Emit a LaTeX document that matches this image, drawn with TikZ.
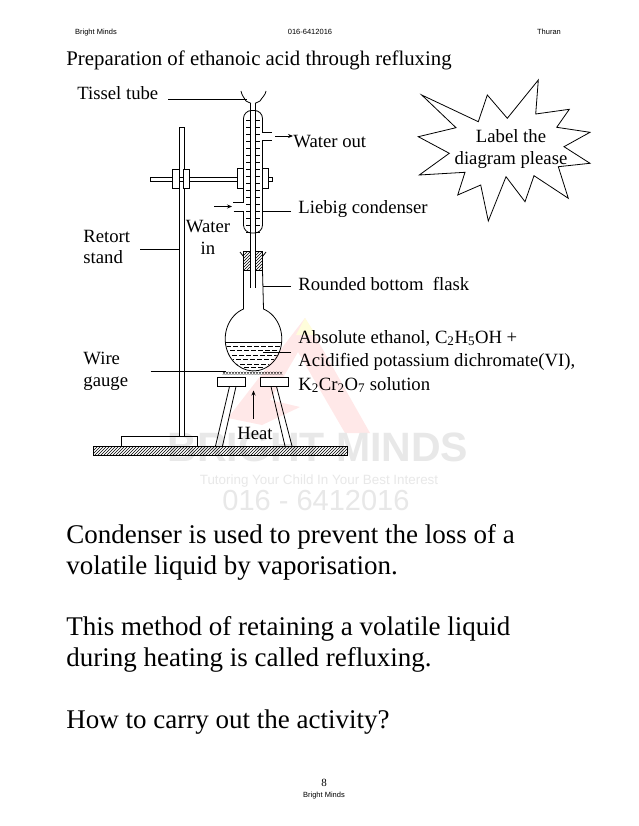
\documentclass[tikz,border=0pt]{standalone}
\usepackage{fontspec}
\setmainfont{Liberation Serif}
\newfontfamily\headfont{Liberation Sans}
\usetikzlibrary{arrows.meta,patterns}

\begin{document}
\begin{tikzpicture}[
    x=1pt, y=1pt, line width=0.8pt,
    lab/.style={anchor=base west, inner sep=0pt, font=\fontsize{18.7}{19}\selectfont},
    labc/.style={lab, anchor=base},
    body/.style={lab, font=\fontsize{27}{27}\selectfont},
    head/.style={anchor=base, inner sep=0pt, font=\fontsize{7.5}{8}\headfont},
    water/.style={line width=0.6pt},
    hatch/.style={pattern=north east lines},
    tip/.style={-{Stealth[length=5pt,width=4pt]}},
    wmark/.style={anchor=base, inner sep=0pt, text=black!9},
]
\useasboundingbox (0,0) rectangle (638,-826);
\fill [white] (0,0) rectangle (638,-826);

    % watermark
    \fill [red!9] (305,-318) -- (370,-433) -- (345,-433) -- (298,-352) -- (270,-400)
        -- (300,-407) -- (262,-425) -- (228,-418) -- cycle;
    \fill [yellow!14] (305,-318) -- (296,-335) -- (316,-335) -- cycle;
    \node [wmark, font=\fontsize{41}{41}\headfont\bfseries] (wmname) at (318,-461) {BRIGHT MINDS};
    \node [wmark, font=\fontsize{13.4}{14}\headfont] (wmtag) at (319,-484) {Tutoring Your Child In Your Best Interest};
    \node [wmark, font=\fontsize{29}{29}\headfont] (wmtel) at (316,-510) {016 - 6412016};

    % page text
    \node [head] (hleft) at (96,-35) {Bright Minds};
    \node [head] (hmid) at (310,-35) {016-6412016};
    \node [head] (hright) at (549,-35) {Thuran};
    \node [lab, font=\fontsize{20.8}{21}\selectfont] (title) at (66,-66)
        {Preparation of ethanoic acid through refluxing};
    \node [body] (b1) at (66,-543) {Condenser is used to prevent the loss of a};
    \node [body] (b2) at (66,-574) {volatile liquid by vaporisation.};
    \node [body] (b3) at (66,-635) {This method of retaining a volatile liquid};
    \node [body] (b4) at (66,-666) {during heating is called refluxing.};
    \node [body] (b5) at (66,-728) {How to carry out the activity?};
    \node [labc, font=\fontsize{11}{11}\selectfont] (pnum) at (324,-786) {8};
    \node [head] (foot) at (324,-797) {Bright Minds};

    % labels
    \node [lab] (tissel) at (77,-100) {Tissel tube};
    \node [lab] (wout) at (293,-148) {Water out};
    \node [lab] (liebig) at (298,-214) {Liebig condenser};
    \node [labc] (win1) at (208,-233) {Water};
    \node [labc] (win2) at (208,-254) {in};
    \node [lab] (retort1) at (83,-242) {Retort};
    \node [lab] (retort2) at (83,-263) {stand};
    \node [lab] (rounded) at (298,-290) {Rounded bottom\ \ flask};
    \node [lab] (abs1) at (298,-343) {Absolute ethanol, C\textsubscript{2}H\textsubscript{5}OH +};
    \node [lab] (abs2) at (298,-366) {Acidified potassium dichromate(VI),};
    \node [lab] (abs3) at (298,-390) {K\textsubscript{2}Cr\textsubscript{2}O\textsubscript{7} solution};
    \node [lab] (wire1) at (83,-364) {Wire};
    \node [lab] (wire2) at (83,-386) {gauge};
    \node [labc] (heat) at (255,-439) {Heat};

    % ground and stand
    \draw [hatch] (93.5,-446) rectangle (347.5,-455.5);
    \draw (121.5,-446) rectangle (197.5,-436.5);
    \draw [fill=white] (179.5,-436.5) rectangle (184.5,-127.5);
    \draw [fill=white] (150,-177) rectangle (237.5,-181.5);
    \draw [fill=white] (172.5,-169.5) rectangle (179.5,-188.5);
    \draw [fill=white] (183.5,-169.5) rectangle (189.5,-188.5);

    % tripod
    \draw (229.5,-386.5) -- (215.5,-446);
    \draw (236,-386.5) -- (222.5,-446);
    \draw (271,-386.5) -- (285,-446);
    \draw (276.5,-386.5) -- (292,-446);
    \draw [fill=white] (217.5,-377.5) rectangle (245.5,-386.5);
    \draw [fill=white] (260.5,-377.5) rectangle (288.5,-386.5);
    \foreach \gx in {224,227,...,281} {
        \draw [line width=0.3pt] (\gx-1.2,-371.8) -- (\gx+1.2,-374.6);
        \draw [line width=0.3pt] (\gx-1.2,-374.6) -- (\gx+1.2,-371.8);
    }

    % flask
    \draw (243.5,-270.5) -- (243.5,-309) arc [start angle=110.7, end angle=429.3, x radius=28.3, y radius=32] -- (262.5,-270.5);
    \draw (226,-342.5) -- (281,-342.5);
    \begin{scope}
        \clip (253.3,-339) ellipse [x radius=27.5, y radius=31];
        \foreach \ly/\lo in {346/0,350.5/3,355/1,359.5/4,364/0,367.5/3} {
            \draw [water, dash pattern=on 4.5pt off 2.5pt, dash phase=\lo pt] (226,-\ly) -- (281,-\ly);
        }
    \end{scope}

    % stopper
    \draw [hatch] (243.5,-251.5) rectangle (250.8,-270.5);
    \draw [hatch] (255.3,-251.5) rectangle (262.5,-270.5);
    \draw (240,-252) -- (243.5,-256.5);
    \draw (266,-252) -- (262.5,-256.5);

    % condenser
    \draw [rounded corners=8pt, fill=white] (243.5,-110.5) rectangle (262.5,-233);
    \fill [white] (233,-203) rectangle (244.2,-211);
    \fill [white] (261.8,-133) rectangle (272.5,-140);
    \draw (233,-202.5) -- (243.5,-202.5);
    \draw (233.5,-211.5) -- (243.5,-211.5);
    \draw (262.5,-132.5) -- (272,-132.5);
    \draw (262.5,-140.5) -- (272,-140.5);
    \foreach \cy in {120,134,...,232} {
        \draw [water] (246,-\cy) -- (250.8,-\cy);
        \draw [water] (255.3,-\cy) -- (260,-\cy);
    }
    \foreach \cy in {127,141,...,225} {
        \draw [water] (246,-\cy) -- (250,-\cy);
        \draw [water] (256,-\cy) -- (260,-\cy);
    }
    \draw (250.8,-104) -- (250.8,-288);
    \draw (255.3,-104) -- (255.3,-288);
    \draw (241,-91) to [out=-80,in=120] (246,-101) to [out=-60,in=90] (250.8,-104);
    \draw (266,-91) to [out=-100,in=60] (260,-101) to [out=-120,in=90] (255.3,-104);
    \draw [fill=white] (237.5,-168.5) rectangle (243.5,-188.5);
    \draw [fill=white] (262.5,-168.5) rectangle (268.5,-188.5);
    \draw [fill=white] (268.5,-177) rectangle (272.5,-181.5);

    % leader lines
    \coordinate (tisselend) at (247,-99);
    \coordinate (woutend) at (293,-136);
    \coordinate (woutstart) at (275,-136);
    \coordinate (winstart) at (214,-206.5);
    \coordinate (winend) at (232,-206.5);
    \coordinate (liebigend) at (262.5,-211.5);
    \coordinate (retortend) at (179.5,-249);
    \coordinate (roundedend) at (262.5,-286);
    \coordinate (absend) at (263,-352.5);
    \coordinate (wireend) at (225.5,-371.5);
    \coordinate (heatend) at (253.5,-390.5);
    \draw (168,-99) -- (tisselend);
    \draw [tip] (woutstart) -- (woutend);
    \draw [tip] (winstart) -- (winend);
    \draw (291,-211.5) -- (liebigend);
    \draw (140,-249) -- (retortend);
    \draw (291,-286) -- (roundedend);
    \draw (291,-352.5) -- (absend);
    \draw (150.5,-371.5) -- (wireend);
    \draw [tip] (253.5,-418.5) -- (heatend);

    % star callout
    \draw (421.7,-95) -- (478.3,-121.7) -- (487.3,-95) -- (507.3,-118.3)
        -- (538.3,-80) -- (535.7,-114) -- (569.3,-109.3) -- (556.7,-127.3)
        -- (590,-132.3) -- (564,-146.7) -- (590,-163.3) -- (558.3,-166.7)
        -- (568.3,-198.3) -- (534,-175.7) -- (525,-201.7) -- (506,-176.7)
        -- (488.3,-221) -- (480.7,-185) -- (457.7,-195) -- (465,-172.3)
        -- (419.3,-175) -- (449.3,-153.3) -- (418.3,-136.7) -- (456,-127.7) -- cycle;
    \node [labc] (label1) at (511,-143) {Label the};
    \node [labc] (label2) at (511,-165) {diagram please};
\end{tikzpicture}
\end{document}
